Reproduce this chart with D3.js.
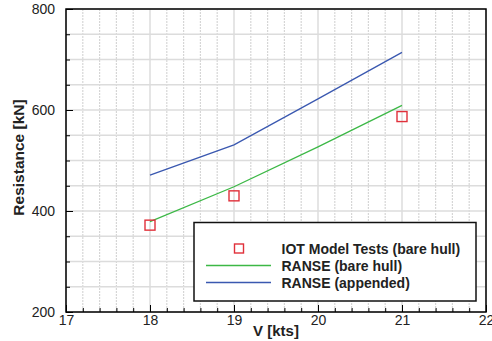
<!DOCTYPE html>
<html>
<head>
<meta charset="utf-8">
<script src="https://cdn.jsdelivr.net/npm/d3@7"></script>
<style>
  html, body { margin: 0; padding: 0; background: #fff; }
  svg { display: block; font-family: "Liberation Sans", Arial, sans-serif; }
</style>
</head>
<body>
<svg id="chart" width="492" height="341"></svg>
<script>
// Ship resistance vs. speed
const speeds = [18, 19, 20, 21];
const modelSpeeds = [18, 19, 21];
const modelTests = [372, 430, 587];        // IOT Model Tests (bare hull)
const ranseBare = [379, 448, 527, 609];     // RANSE (bare hull)
const ranseAppended = [471, 531, 622, 714]; // RANSE (appended)
const xTicks = [17, 18, 19, 20, 21, 22];
const yTicks = [200, 400, 600, 800];
const legendLabels = ["IOT Model Tests (bare hull)", "RANSE (bare hull)", "RANSE (appended)"];

const svg = d3.select("#chart");
const m = { left: 66, right: 486, top: 9, bottom: 312 };

const x = d3.scaleLinear().domain([17, 22]).range([m.left, m.right]);
const y = d3.scaleLinear().domain([200, 800]).range([m.bottom, m.top]);

const xMinor = d3.range(17, 22.001, 0.2).map(v => +v.toFixed(1));
const yMinor = d3.range(200, 801, 50);

// grid
const grid = svg.append("g");
grid.selectAll("line.vx").data(xMinor.filter(v => !xTicks.includes(v))).join("line")
  .attr("x1", d => x(d)).attr("x2", d => x(d))
  .attr("y1", m.top).attr("y2", m.bottom)
  .attr("stroke", "#d6d6d6").attr("stroke-width", 1.2).attr("stroke-dasharray", "2,1");
grid.selectAll("line.vm").data(xTicks).join("line")
  .attr("x1", d => x(d)).attr("x2", d => x(d))
  .attr("y1", m.top).attr("y2", m.bottom)
  .attr("stroke", "#dcdcdc").attr("stroke-width", 1.5);
grid.selectAll("line.h").data(yMinor).join("line")
  .attr("x1", m.left).attr("x2", m.right)
  .attr("y1", d => y(d)).attr("y2", d => y(d))
  .attr("stroke", "#dcdcdc").attr("stroke-width", 1.5);

// axes with inward ticks
const xAxis = svg.append("g").attr("transform", `translate(0,${m.bottom})`)
  .call(d3.axisBottom(x).tickValues(xMinor).tickSize(-4).tickFormat(""));
xAxis.select(".domain").remove();
xAxis.selectAll(".tick line").attr("stroke", "#000").attr("stroke-width", 1)
  .attr("y2", d => xTicks.includes(d) ? -7 : -4);

const xLab = svg.append("g").attr("transform", `translate(0,${m.bottom})`)
  .call(d3.axisBottom(x).tickValues(xTicks).tickSize(0).tickPadding(3).tickFormat(d3.format("d")));
xLab.select(".domain").remove();
xLab.selectAll("text").attr("font-size", 14).attr("fill", "#222").attr("font-family", "Liberation Sans, Arial, sans-serif");

const yAxis = svg.append("g").attr("transform", `translate(${m.left},0)`)
  .call(d3.axisLeft(y).tickValues(yMinor).tickSize(-4).tickFormat(""));
yAxis.select(".domain").remove();
yAxis.selectAll(".tick line").attr("stroke", "#000").attr("stroke-width", 1)
  .attr("x2", d => yTicks.includes(d) ? 7 : 4);

const yLab = svg.append("g").attr("transform", `translate(${m.left},0)`)
  .call(d3.axisLeft(y).tickValues(yTicks).tickSize(0).tickPadding(11).tickFormat(d3.format("d")));
yLab.select(".domain").remove();
yLab.selectAll("text").attr("font-size", 14).attr("fill", "#222").attr("font-family", "Liberation Sans, Arial, sans-serif");

// frame
svg.append("rect").attr("x", m.left).attr("y", m.top)
  .attr("width", m.right - m.left).attr("height", m.bottom - m.top)
  .attr("fill", "none").attr("stroke", "#000").attr("stroke-width", 1.5);

// series
const line = d3.line().x(d => x(d[0])).y(d => y(d[1]));
svg.append("path").datum(speeds.map((s, i) => [s, ranseAppended[i]]))
  .attr("d", line).attr("fill", "none").attr("stroke", "#3a58b0").attr("stroke-width", 1.3);
svg.append("path").datum(speeds.map((s, i) => [s, ranseBare[i]]))
  .attr("d", line).attr("fill", "none").attr("stroke", "#3cb846").attr("stroke-width", 1.3);

const sq = 10;
svg.selectAll("rect.pt").data(modelSpeeds.map((s, i) => [s, modelTests[i]])).join("rect")
  .attr("x", d => x(d[0]) - sq / 2).attr("y", d => y(d[1]) - sq / 2)
  .attr("width", sq).attr("height", sq)
  .attr("fill", "none").attr("stroke", "#e0303a").attr("stroke-width", 1.4);

// legend
const lg = svg.append("g");
lg.append("rect").attr("x", 194).attr("y", 222.5).attr("width", 282).attr("height", 78.5)
  .attr("fill", "#fff").attr("stroke", "#111").attr("stroke-width", 1.5);
const ly = [248.5, 265.5, 282.5];
lg.append("rect").attr("x", 239 - 4.5).attr("y", ly[0] - 4.5).attr("width", 9).attr("height", 9)
  .attr("fill", "none").attr("stroke", "#e0303a").attr("stroke-width", 1.4);
lg.append("line").attr("x1", 206).attr("x2", 271).attr("y1", ly[1]).attr("y2", ly[1])
  .attr("stroke", "#3cb846").attr("stroke-width", 1.3);
lg.append("line").attr("x1", 206).attr("x2", 271).attr("y1", ly[2]).attr("y2", ly[2])
  .attr("stroke", "#3a58b0").attr("stroke-width", 1.3);
lg.selectAll("text").data(legendLabels).join("text")
  .attr("x", 281.5).attr("y", (d, i) => ly[i]).attr("dy", "0.36em")
  .attr("font-size", 14).attr("font-weight", "bold").attr("fill", "#222")
  .text(d => d);

// axis titles
svg.append("text").attr("x", 276).attr("y", 336)
  .attr("text-anchor", "middle").attr("font-size", 15).attr("font-weight", "bold").attr("fill", "#222")
  .text("V [kts]");
svg.append("text").attr("transform", "translate(23.5,157.5) rotate(-90)")
  .attr("text-anchor", "middle").attr("font-size", 15.5).attr("font-weight", "bold").attr("fill", "#222")
  .text("Resistance [kN]");
</script>
</body>
</html>
